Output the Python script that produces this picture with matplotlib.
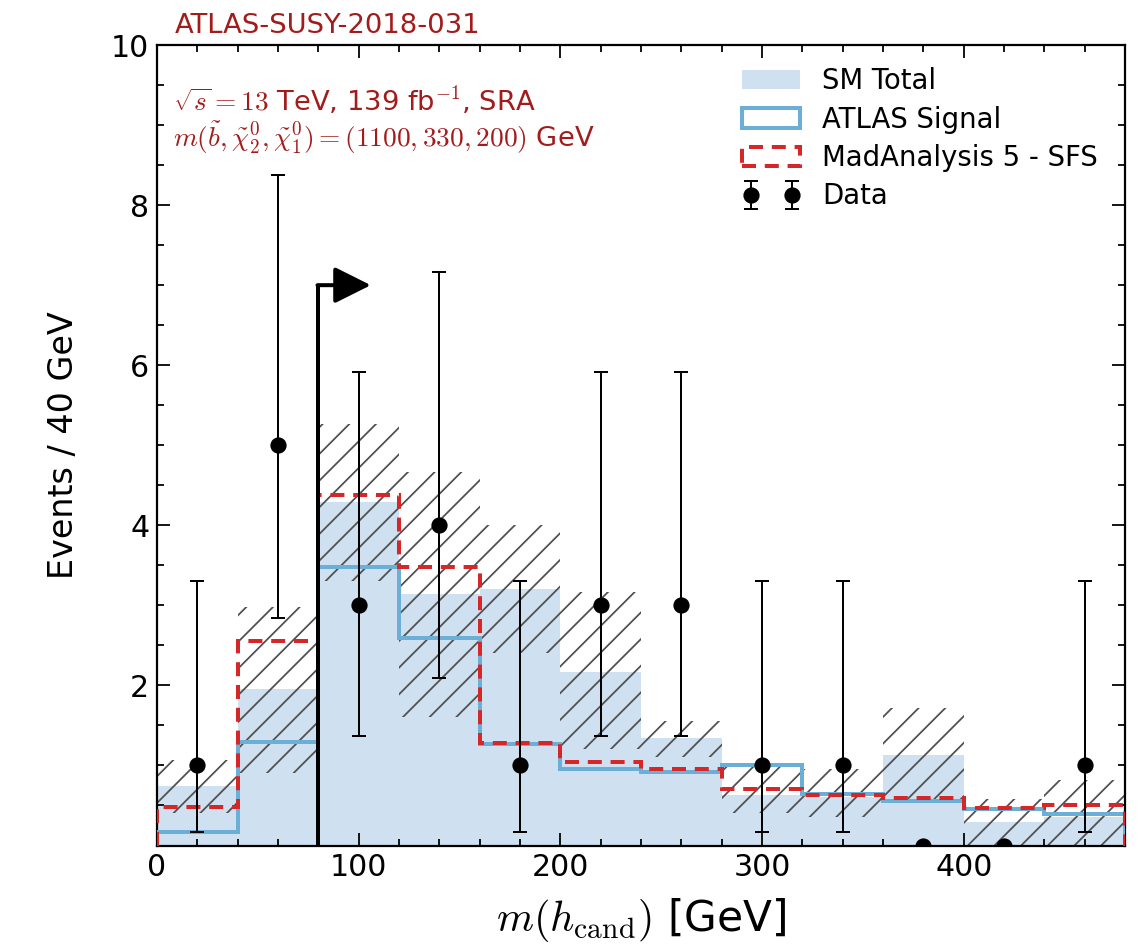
import matplotlib
matplotlib.use("Agg")
import matplotlib.pyplot as plt
import numpy as np
from matplotlib.patches import Patch
from matplotlib.ticker import MultipleLocator

# Binning of m(h_cand) in GeV
bin_edges = [0, 40, 80, 120, 160, 200, 240, 280, 320, 360, 400, 440, 480]

# Standard Model total background and its uncertainty band
sm_total = [0.74, 1.95, 4.29, 3.14, 3.20, 2.17, 1.34, 0.63, 0.60, 1.13, 0.29, 0.36]
sm_band_low = [0.40, 0.90, 3.30, 1.60, 2.40, 1.20, 1.10, 0.40, 0.35, 0.55, 0.00, 0.00]
sm_band_high = [1.07, 2.98, 5.27, 4.67, 4.00, 3.17, 1.56, 1.00, 0.95, 1.72, 0.58, 0.82]

# Signal predictions
atlas_signal = [0.17, 1.29, 3.48, 2.59, 1.27, 0.95, 0.92, 1.01, 0.64, 0.55, 0.46, 0.39]
ma5_sfs = [0.48, 2.55, 4.38, 3.48, 1.28, 1.04, 0.95, 0.71, 0.63, 0.59, 0.47, 0.50]

# Observed data with asymmetric errors
data_x = [20, 60, 100, 140, 180, 220, 260, 300, 340, 380, 420, 460]
data_y = [1, 5, 3, 4, 1, 3, 3, 1, 1, 0, 0, 1]
data_err_low = [0.83, 2.16, 1.63, 1.91, 0.83, 1.63, 1.63, 0.83, 0.83, 0, 0, 0.83]
data_err_high = [2.30, 3.38, 2.92, 3.16, 2.30, 2.92, 2.92, 2.30, 2.30, 0, 0, 2.30]

# Signal-region selection cut
cut_x = 80
cut_height = 7.0
cut_arrow_end = 106

fill_col = "#cfe0f1"
blue = "#6baed6"
red = "#d62728"
txt_col = "#a31c1c"

plt.rcParams["mathtext.fontset"] = "cm"
plt.rcParams["hatch.linewidth"] = 0.8
plt.rcParams["hatch.color"] = "#505050"

DPI = 160
fig = plt.figure(figsize=(1138 / DPI, 950 / DPI), dpi=DPI)
ax = fig.add_axes([0.138, 0.110, 0.8506, 0.8426])

edges = np.array(bin_edges, dtype=float)
widths = np.diff(edges)
lows = np.array(sm_band_low)
highs = np.array(sm_band_high)

ax.bar(edges[:-1], sm_total, width=widths, align="edge", color=fill_col,
       linewidth=0, zorder=1)
ax.bar(edges[:-1], highs - lows, bottom=lows, width=widths, align="edge",
       fill=False, hatch="//", edgecolor="#505050", linewidth=0, zorder=2)

ax.stairs(atlas_signal, edges, color=blue, linewidth=1.8, zorder=3)
ax.stairs(ma5_sfs, edges, color=red, linewidth=1.8, linestyle=(0, (3.5, 2.2)),
          zorder=4)

eb = ax.errorbar(data_x, data_y, yerr=[data_err_low, data_err_high], fmt="o",
                 color="black", markersize=6.3, elinewidth=0.9, capsize=3.0,
                 capthick=0.9, zorder=6)

ax.plot([cut_x, cut_x], [0, cut_height], color="black", linewidth=1.8,
        solid_capstyle="butt", zorder=7)
ax.annotate("", xy=(cut_arrow_end, cut_height), xytext=(cut_x - 0.45, cut_height),
            arrowprops=dict(arrowstyle="-|>,head_length=0.7,head_width=0.35",
                            color="black", lw=1.8, shrinkA=0, shrinkB=0,
                            mutation_scale=20),
            zorder=7)

ax.set_xlim(0, 480)
ax.set_ylim(0, 10)
ax.set_yticks([2, 4, 6, 8, 10])
ax.set_xticks([0, 100, 200, 300, 400])
ax.xaxis.set_minor_locator(MultipleLocator(20))
ax.yaxis.set_minor_locator(MultipleLocator(0.5))
ax.tick_params(which="both", direction="in", top=True, right=True,
               labelsize=13.5, width=0.8)
ax.tick_params(which="major", length=6)
ax.tick_params(which="minor", length=3)
for sp in ax.spines.values():
    sp.set_linewidth(1.0)

ax.set_ylabel("Events / 40 GeV", fontsize=15, labelpad=14)
ax.set_xlabel(r"$m(h_{\rm cand})$ [GeV]", fontsize=19, labelpad=6)

ax.text(0.018, 1.008, "ATLAS-SUSY-2018-031", transform=ax.transAxes,
        fontsize=12.3, color=txt_col, ha="left", va="bottom")
ax.text(0.016, 0.931, r"$\sqrt{s}=13$ TeV, 139 fb$^{-1}$, SRA",
        transform=ax.transAxes, fontsize=12.3, color=txt_col,
        ha="left", va="center")
ax.text(0.016, 0.884,
        r"$m(\tilde{b},\tilde{\chi}_2^0,\tilde{\chi}_1^0)=(1100,330,200)$ GeV",
        transform=ax.transAxes, fontsize=12.3, color=txt_col,
        ha="left", va="center")

handles = [
    Patch(facecolor=fill_col, edgecolor="none"),
    Patch(facecolor="none", edgecolor=blue, linewidth=1.8),
    Patch(facecolor="none", edgecolor=red, linewidth=1.8, linestyle=(0, (3.5, 2.2))),
    eb,
]
labels = ["SM Total", "ATLAS Signal", "MadAnalysis 5 - SFS", "Data"]
ax.legend(handles, labels, loc="upper right", frameon=False, fontsize=12.4,
          numpoints=2, handlelength=2.1, labelspacing=0.38,
          borderaxespad=0.4, bbox_to_anchor=(0.995, 1.0))

fig.savefig("out.png", dpi=DPI)
